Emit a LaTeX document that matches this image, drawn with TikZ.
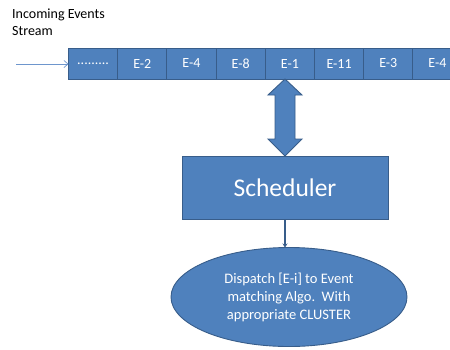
\documentclass[tikz,border=0pt]{standalone}
\usepackage{fontspec}
\setmainfont{Carlito}
\usepackage{tikz}
\usetikzlibrary{
  arrows.meta,   % Stealth / Straight Barb tips
  calc,          % coordinate arithmetic
  positioning,   % chain of queue cells
  shapes.geometric % ellipse for the dispatch step
}
\definecolor{boxblue}{RGB}{79,129,189}
\definecolor{edgeblue}{RGB}{56,93,138}
\definecolor{streamblue}{RGB}{110,150,205}
\tikzset{
  cell/.style={
    draw=edgeblue,
    fill=boxblue,
    line width=0.9pt,
    minimum width=49.2pt,
    minimum height=31pt,
    inner sep=0pt,
    outer sep=0pt,
    text=white,
    font=\fontsize{14}{16}\selectfont
  },
  sched box/.style={
    draw=edgeblue,
    fill=boxblue,
    line width=0.9pt,
    minimum width=206pt,
    minimum height=63pt,
    outer sep=0pt,
    text=white,
    font=\fontsize{25.5}{30}\selectfont
  },
  dispatch/.style={
    ellipse,
    draw=edgeblue,
    fill=boxblue,
    line width=0.9pt,
    minimum width=236pt,
    minimum height=99pt,
    inner sep=0pt,
    outer sep=0pt,
    align=center,
    text=white,
    font=\fontsize{14.5}{18}\selectfont
  },
  fat arrow/.style={
    draw=edgeblue,
    fill=boxblue,
    line width=0.9pt,
    line join=miter
  }
}

\begin{document}
\begin{tikzpicture}[x=1pt, y=-1pt]
  % page frame, 450 x 349
  \path[use as bounding box, clip] (0,0) rectangle (450,349);

  % ===================================
  % incoming stream and its queue
  % ===================================
  \node[anchor=north west, align=left, inner sep=0pt,
        font=\fontsize{14}{17}\selectfont] (title) at (12,9)
       {Incoming Events\\Stream};

  \node[cell, anchor=north west] (c0) at (68.5,48) {.........};
  \foreach \lbl [count=\i, remember=\i as \j (initially 0)]
      in {E-2,E-4,E-8,E-1,E-11,E-3,E-4} {
    \node[cell, right=0pt of c\j] (c\i) {\lbl};
  }

  % feed arrow into the queue
  \coordinate (feed) at (16,64);
  \draw[streamblue, line width=0.7pt, -{Straight Barb[length=4pt, width=7pt]}]
    (feed) -- (feed -| c0.west);

  % ===================================
  % scheduler and dispatch step
  % ===================================
  \node[sched box] (sched) at (285,187.5) {Scheduler};
  \node[dispatch] (disp) at (289,297)
       {Dispatch [E-i] to Event\\matching Algo.\ \ With\\appropriate CLUSTER};

  % two-way block arrow between E-1 and the scheduler
  \coordinate (top) at (sched.north |- c4.south);
  \coordinate (bot) at (sched.north);
  \draw[fat arrow]
    (top) -- ++(17,16) -- ++(-7,0) -- ($(bot)+(10,-17)$) -- ++(7,0)
    -- (bot) -- ++(-17,-17) -- ++(7,0) -- ($(top)+(-10,16)$) -- ++(-7,0)
    -- cycle;

  % scheduler hands the event over
  \draw[edgeblue, line width=1.6pt, -{Stealth[length=4pt, width=5pt]}]
    (sched.south) -- (sched.south |- disp.north);
\end{tikzpicture}
\end{document}
